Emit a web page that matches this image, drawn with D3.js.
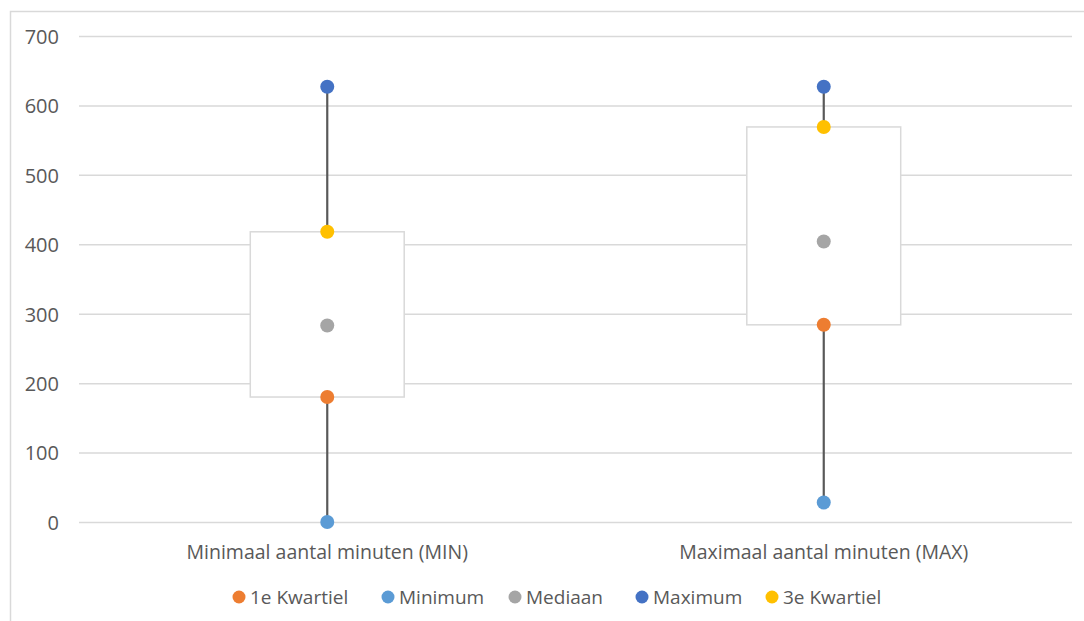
<!DOCTYPE html>
<html>
<head>
<meta charset="utf-8">
<script src="https://cdn.jsdelivr.net/npm/d3@7"></script>
<style>
  html, body { margin: 0; padding: 0; background: #fff; }
  svg { display: block; }
  svg text { font-family: "Open Sans", "Noto Sans", sans-serif; fill: #595959; }
</style>
</head>
<body>
<svg id="chart" width="1084" height="621"></svg>
<script>
// Box-plot statistics (minutes) per category
const categories = ["Minimaal aantal minuten (MIN)", "Maximaal aantal minuten (MAX)"];
const minimum   = [0, 28];
const kwartiel1 = [180, 284];
const mediaan   = [283, 404];
const kwartiel3 = [418, 569];
const maximum   = [627, 627];
const yTicks = [0, 100, 200, 300, 400, 500, 600, 700];

const series = [
  { name: "1e Kwartiel", values: kwartiel1, color: "#ED7D31" },
  { name: "Minimum",     values: minimum,   color: "#5B9BD5" },
  { name: "Mediaan",     values: mediaan,   color: "#A5A5A5" },
  { name: "Maximum",     values: maximum,   color: "#4472C4" },
  { name: "3e Kwartiel", values: kwartiel3, color: "#FFC000" }
];

const svg = d3.select("#chart");
const plot = { left: 79, right: 1072, top: 36, bottom: 522 };

// chart frame
svg.append("rect")
  .attr("x", 10.5).attr("y", 11.5)
  .attr("width", 1200).attr("height", 700)
  .attr("fill", "none").attr("stroke", "#d9d9d9").attr("stroke-width", 1.5);

const x = d3.scaleBand().domain(categories).range([plot.left, plot.right]);
const y = d3.scaleLinear().domain([0, 700]).range([plot.bottom, plot.top]);

// gridlines + y labels
const yAxis = d3.axisLeft(y).tickValues(yTicks).tickSize(-(plot.right - plot.left)).tickPadding(20);
const gy = svg.append("g").attr("transform", `translate(${plot.left},0)`).call(yAxis);
gy.attr("font-family", null);
gy.select(".domain").remove();
gy.selectAll(".tick line").attr("stroke", "#d9d9d9").attr("stroke-width", 1.5);
gy.selectAll(".tick text").attr("dy", "0.37em").style("font-size", "20px");

// category labels
const xAxis = d3.axisBottom(x).tickSize(0).tickPadding(23);
const gx = svg.append("g").attr("transform", `translate(0,${plot.bottom})`).call(xAxis);
gx.attr("font-family", null);
gx.select(".domain").remove();
gx.selectAll(".tick text").style("font-size", "19.5px");

const boxW = x.bandwidth() * 0.31;
const cx = (c) => x(c) + x.bandwidth() / 2;

// boxes
svg.append("g").selectAll("rect").data(categories).join("rect")
  .attr("x", c => cx(c) - boxW / 2)
  .attr("y", (c, i) => y(kwartiel3[i]))
  .attr("width", boxW)
  .attr("height", (c, i) => y(kwartiel1[i]) - y(kwartiel3[i]))
  .attr("fill", "#fff").attr("stroke", "#d9d9d9").attr("stroke-width", 1.5);

// whiskers
const wg = svg.append("g").attr("stroke", "#595959").attr("stroke-width", 2.2);
categories.forEach((c, i) => {
  wg.append("line").attr("x1", cx(c)).attr("x2", cx(c))
    .attr("y1", y(maximum[i])).attr("y2", y(kwartiel3[i]));
  wg.append("line").attr("x1", cx(c)).attr("x2", cx(c))
    .attr("y1", y(kwartiel1[i])).attr("y2", y(minimum[i]));
});

// markers
series.forEach(s => {
  svg.append("g").selectAll("circle").data(categories).join("circle")
    .attr("cx", c => cx(c))
    .attr("cy", (c, i) => y(s.values[i]))
    .attr("r", 7)
    .attr("fill", s.color);
});

// legend
const legendX = [239, 388, 515, 642, 772];
const lg = svg.append("g").attr("transform", "translate(0,597)");
series.forEach((s, i) => {
  lg.append("circle").attr("cx", legendX[i]).attr("cy", 0).attr("r", 6.5).attr("fill", s.color);
  lg.append("text").attr("x", legendX[i] + 11).attr("y", 0).attr("dy", "0.35em")
    .style("font-size", "19px").text(s.name);
});
</script>
</body>
</html>
